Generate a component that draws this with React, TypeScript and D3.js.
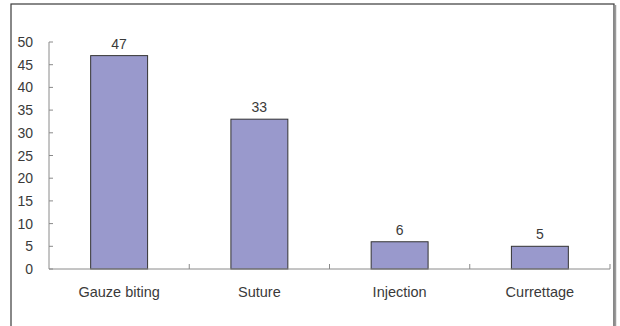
import React from "react";
import * as d3 from "d3";

const categories = ["Gauze biting", "Suture", "Injection", "Currettage"];
const values = [47, 33, 6, 5];
const yTicks = [0, 5, 10, 15, 20, 25, 30, 35, 40, 45, 50];

const W = 620;
const H = 326;
const font = "'Liberation Sans', Arial, sans-serif";

export default function App() {
  const x = d3
    .scaleBand<string>()
    .domain(categories)
    .range([49, 610])
    .paddingInner(0.594)
    .paddingOuter(0.297);
  const y = d3.scaleLinear().domain([0, 50]).range([269, 42]);
  const step = x.step();
  const boundaries = categories.map((_, i) => 49 + step * (i + 1));

  return (
    <svg
      width={W}
      height={H}
      style={{ position: "absolute", left: 0, top: 0, background: "#fff" }}
      fontFamily={font}
    >
      {/* frame (its bottom edge runs past the canvas) */}
      <rect x={11} y={4} width={603} height={330} fill="#fff" stroke="#3a3a3a" strokeWidth={1.2} />
      <line x1={615.5} y1={5} x2={615.5} y2={326} stroke="#9a9a9a" strokeWidth={1.5} />

      {/* y axis */}
      <line x1={49} y1={y(50)} x2={49} y2={y(0)} stroke="#8a8a8a" />
      {yTicks.map((t) => (
        <g key={t}>
          <line x1={49} x2={53} y1={y(t)} y2={y(t)} stroke="#8a8a8a" />
          <text x={33} y={y(t)} dy="0.36em" textAnchor="end" fontSize={14} fill="#3a3a3a">
            {t}
          </text>
        </g>
      ))}

      {/* bars */}
      {categories.map((c, i) => (
        <g key={c}>
          <rect
            x={x(c)}
            y={y(values[i])}
            width={x.bandwidth()}
            height={y(0) - y(values[i])}
            fill="#9999cc"
            stroke="#333"
            strokeWidth={1}
          />
          <text
            x={(x(c) as number) + x.bandwidth() / 2}
            y={y(values[i]) - 7}
            textAnchor="middle"
            fontSize={14}
            fill="#3a3a3a"
          >
            {values[i]}
          </text>
          <text
            x={(x(c) as number) + x.bandwidth() / 2}
            y={297}
            textAnchor="middle"
            fontSize={14.5}
            fill="#3a3a3a"
          >
            {c}
          </text>
        </g>
      ))}

      {/* x axis */}
      <line x1={49} y1={y(0)} x2={610} y2={y(0)} stroke="#8a8a8a" />
      {boundaries.map((b, i) => (
        <line key={i} x1={b} x2={b} y1={y(0)} y2={y(0) - 5} stroke="#8a8a8a" />
      ))}
    </svg>
  );
}
